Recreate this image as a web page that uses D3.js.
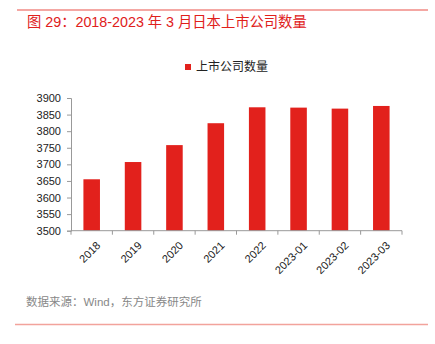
<!DOCTYPE html>
<html><head><meta charset="utf-8">
<script src="https://cdn.jsdelivr.net/npm/d3@7"></script>
<style>body{margin:0;background:#fff}svg{display:block}</style>
</head><body>
<svg id="c" width="435" height="344"></svg>
<script>
const categories = ["2018","2019","2020","2021","2022","2023-01","2023-02","2023-03"];
const values = [3655, 3707, 3758, 3824, 3872, 3871, 3868, 3876];
const yTicks = [3500,3550,3600,3650,3700,3750,3800,3850,3900];
const seriesName = "上市公司数量";
const title = "图 29：2018-2023 年 3 月日本上市公司数量";
const source = "数据来源：Wind，东方证券研究所";

const svg = d3.select("#c");
const font = "'Liberation Sans', Arial, 'Noto Sans CJK SC', sans-serif";
svg.append("line").attr("x1",17).attr("x2",428).attr("y1",10).attr("y2",10).attr("stroke","#f08a84").attr("stroke-width",1.5);
svg.append("text").attr("x",27).attr("y",27).attr("fill","#e0201b").attr("font-size",14.3).attr("font-family",font).text(title);

const x = d3.scaleBand().domain(categories).range([71,402]).paddingInner(0.6).paddingOuter(0.3);
const y = d3.scaleLinear().domain([3500,3900]).range([230.7,98]);

const gy = svg.append("g").attr("transform","translate(71,0)").call(d3.axisLeft(y).tickValues(yTicks).tickFormat(d3.format("d")).tickSize(4).tickPadding(6));
gy.selectAll("text").attr("font-size",11).attr("font-family",font).attr("fill","#222");
gy.selectAll("line").attr("stroke","#999");
gy.select(".domain").attr("stroke","#999");

svg.selectAll("rect.bar").data(values).enter().append("rect").attr("class","bar")
  .attr("x",(d,i)=>x(categories[i])).attr("width",x.bandwidth())
  .attr("y",d=>y(d)).attr("height",d=>y(3500)-y(d)).attr("fill","#e2211c");

const gx = svg.append("g").attr("transform","translate(0,230.7)");
gx.append("line").attr("x1",71).attr("x2",402).attr("stroke","#999");
const step = (402-71)/categories.length;
gx.selectAll("line.t").data(d3.range(categories.length+1)).enter().append("line")
  .attr("x1",i=>71+i*step).attr("x2",i=>71+i*step).attr("y1",0).attr("y2",4).attr("stroke","#999");
gx.selectAll("text").data(categories).enter().append("text")
  .attr("transform",d=>`translate(${x(d)+x.bandwidth()/2+4},10) rotate(-45)`)
  .attr("text-anchor","end").attr("dy","0.7em").attr("font-size",11).attr("font-family",font).attr("fill","#222").text(d=>d);

svg.append("rect").attr("x",185).attr("y",64).attr("width",6).attr("height",6).attr("fill","#e2211c");
svg.append("text").attr("x",196).attr("y",71).attr("font-size",12).attr("font-family",font).attr("fill","#222").text(seriesName);

svg.append("text").attr("x",26).attr("y",306).attr("font-size",11.5).attr("font-family",font).attr("fill","#888").text(source);
svg.append("line").attr("x1",15).attr("x2",428).attr("y1",324.5).attr("y2",324.5).attr("stroke","#f2a39c").attr("stroke-width",1.5);
</script>
</body></html>
